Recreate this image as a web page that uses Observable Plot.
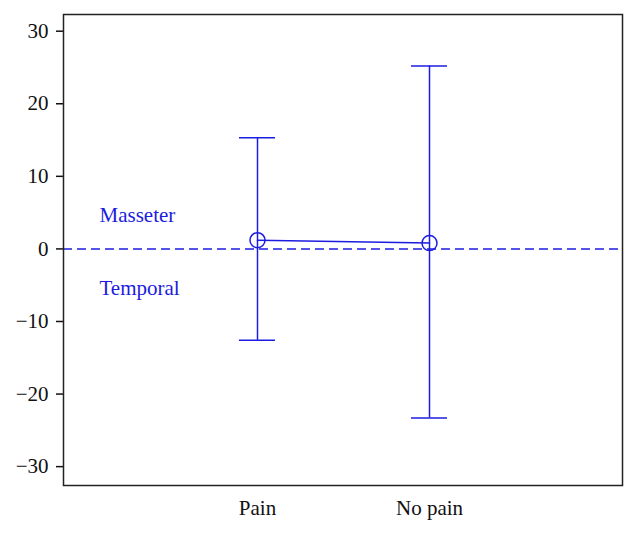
<!DOCTYPE html>
<html>
<head>
<meta charset="utf-8">
<script src="https://cdn.jsdelivr.net/npm/d3@7"></script>
<script src="https://cdn.jsdelivr.net/npm/@observablehq/plot@0.6"></script>
<style>
  html, body { margin: 0; padding: 0; background: #fff; }
</style>
</head>
<body>
<div id="chart"></div>
<script>
const groups = ["Pain", "No pain"];
const means = [1.2, 0.8];
const upper = [15.3, 25.2];
const lower = [-12.6, -23.3];
const yTicks = [-30, -20, -10, 0, 10, 20, 30];
const regionLabels = ["Masseter", "Temporal"];
const regionY = [4.6, -5.4];

const blue = "#1c1ce0";
const data = groups.map((g, i) => ({group: g, mean: means[i], upper: upper[i], lower: lower[i]}));

const chart = Plot.plot({
  width: 636,
  height: 533,
  marginLeft: 63,
  marginRight: 14,
  marginTop: 14,
  marginBottom: 48,
  style: {fontFamily: "'Liberation Serif', 'DejaVu Serif', serif", fontSize: "21px", color: "#111", background: "#fff"},
  x: {type: "band", domain: groups, paddingInner: 0.792, paddingOuter: 1.012, label: null},
  y: {domain: [-32.6, 32.3], label: null},
  marks: [
    Plot.ruleY([0], {stroke: blue, strokeWidth: 1.5, strokeDasharray: "9,5"}),
    Plot.ruleX(data, {x: "group", y1: "lower", y2: "upper", stroke: blue, strokeWidth: 1.5}),
    Plot.tickY(data, {x: "group", y: "upper", stroke: blue, strokeWidth: 1.5}),
    Plot.tickY(data, {x: "group", y: "lower", stroke: blue, strokeWidth: 1.5}),
    Plot.line(data, {x: "group", y: "mean", stroke: blue, strokeWidth: 1.5}),
    Plot.dot(data, {x: "group", y: "mean", r: 7.5, stroke: blue, strokeWidth: 1.5, fill: "none"}),
    Plot.text(regionLabels, {frameAnchor: "left", y: regionY, text: d => d, dx: 36, textAnchor: "start", fill: blue, fontSize: 21}),
    Plot.axisY({ticks: yTicks, tickSize: 7, tickPadding: 8, tickFormat: d => d < 0 ? "\u2212" + Math.abs(d) : String(d), fontSize: 21, strokeWidth: 1.5}),
    Plot.axisX({tickSize: 0, tickPadding: 15, fontSize: 21}),
    Plot.frame({stroke: "#222", strokeWidth: 1.5})
  ]
});
document.getElementById("chart").append(chart);
</script>
</body>
</html>
